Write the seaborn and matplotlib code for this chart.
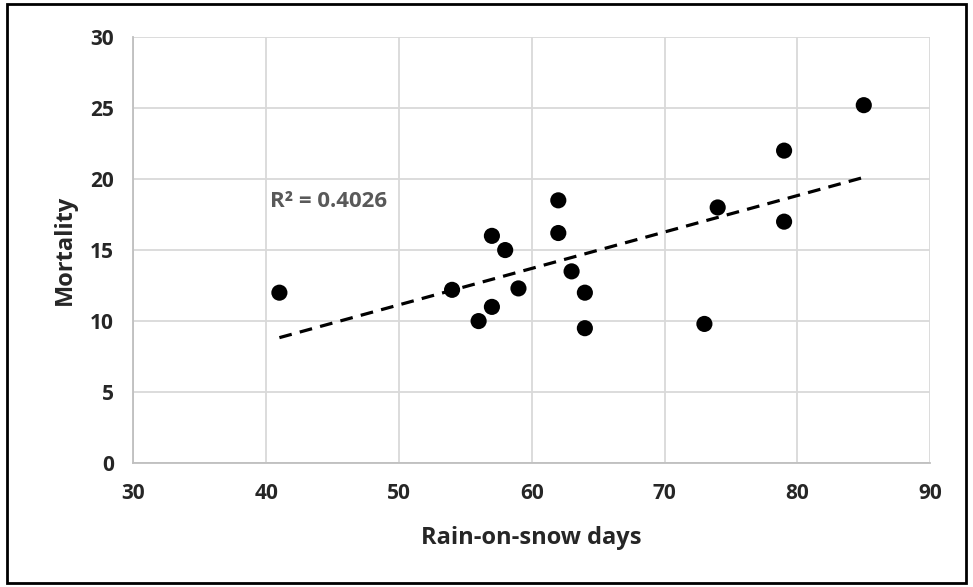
import numpy as np
import pandas as pd
import matplotlib
matplotlib.use("Agg")
import matplotlib.pyplot as plt
import seaborn as sns

# values
rain_on_snow_days = [41, 54, 56, 57, 57, 58, 59, 62, 62, 63, 64, 64, 73, 74, 79, 79, 85]
mortality = [12.0, 12.2, 10.0, 16.0, 11.0, 15.0, 12.3, 18.5, 16.2, 13.5, 12.0, 9.5, 9.8, 18.0, 22.0, 17.0, 25.2]
r2_label = "R² = 0.4026"

df = pd.DataFrame({"days": rain_on_snow_days, "mortality": mortality})

sns.set_style("white")
plt.rcParams["font.family"] = ["Open Sans", "DejaVu Sans"]

fig, ax = plt.subplots(figsize=(9.73, 5.87), dpi=100)
fig.subplots_adjust(left=0.137, right=0.956, top=0.937, bottom=0.211)

# dashed linear trend line plus the points
sns.regplot(data=df, x="days", y="mortality", scatter=False, ci=None, ax=ax,
            line_kws={"color": "black", "lw": 2.3, "dashes": (4.0, 2.6)})
sns.scatterplot(data=df, x="days", y="mortality", ax=ax, color="black", s=135,
                edgecolor="none", zorder=3)

ax.set_xlim(30, 90)
ax.set_ylim(0, 30)
ax.set_xticks(range(30, 91, 10))
ax.set_yticks(range(0, 31, 5))
ax.grid(True, color="#d9d9d9", lw=1.3)
ax.set_axisbelow(True)
for side in ["top", "right"]:
    ax.spines[side].set_visible(False)
for side in ["left", "bottom"]:
    ax.spines[side].set_color("#bfbfbf")
    ax.spines[side].set_linewidth(1.3)
ax.tick_params(length=0, labelsize=15, pad=14)
for lab in ax.get_xticklabels() + ax.get_yticklabels():
    lab.set_fontweight("bold")

ax.set_xlabel("Rain-on-snow days", fontsize=17, fontweight="bold", labelpad=16)
ax.set_ylabel("Mortality", fontsize=17, fontweight="bold", labelpad=9)

ax.text(40.3, 18.4, r2_label, fontsize=16, fontweight="bold", color="#595959",
        va="center", ha="left")

# thin black frame round the whole picture
fig.add_artist(plt.Rectangle((0.007, 0.007), 0.986, 0.986, transform=fig.transFigure,
                             fill=False, lw=2, color="black"))

fig.savefig("out.png", dpi=100)
